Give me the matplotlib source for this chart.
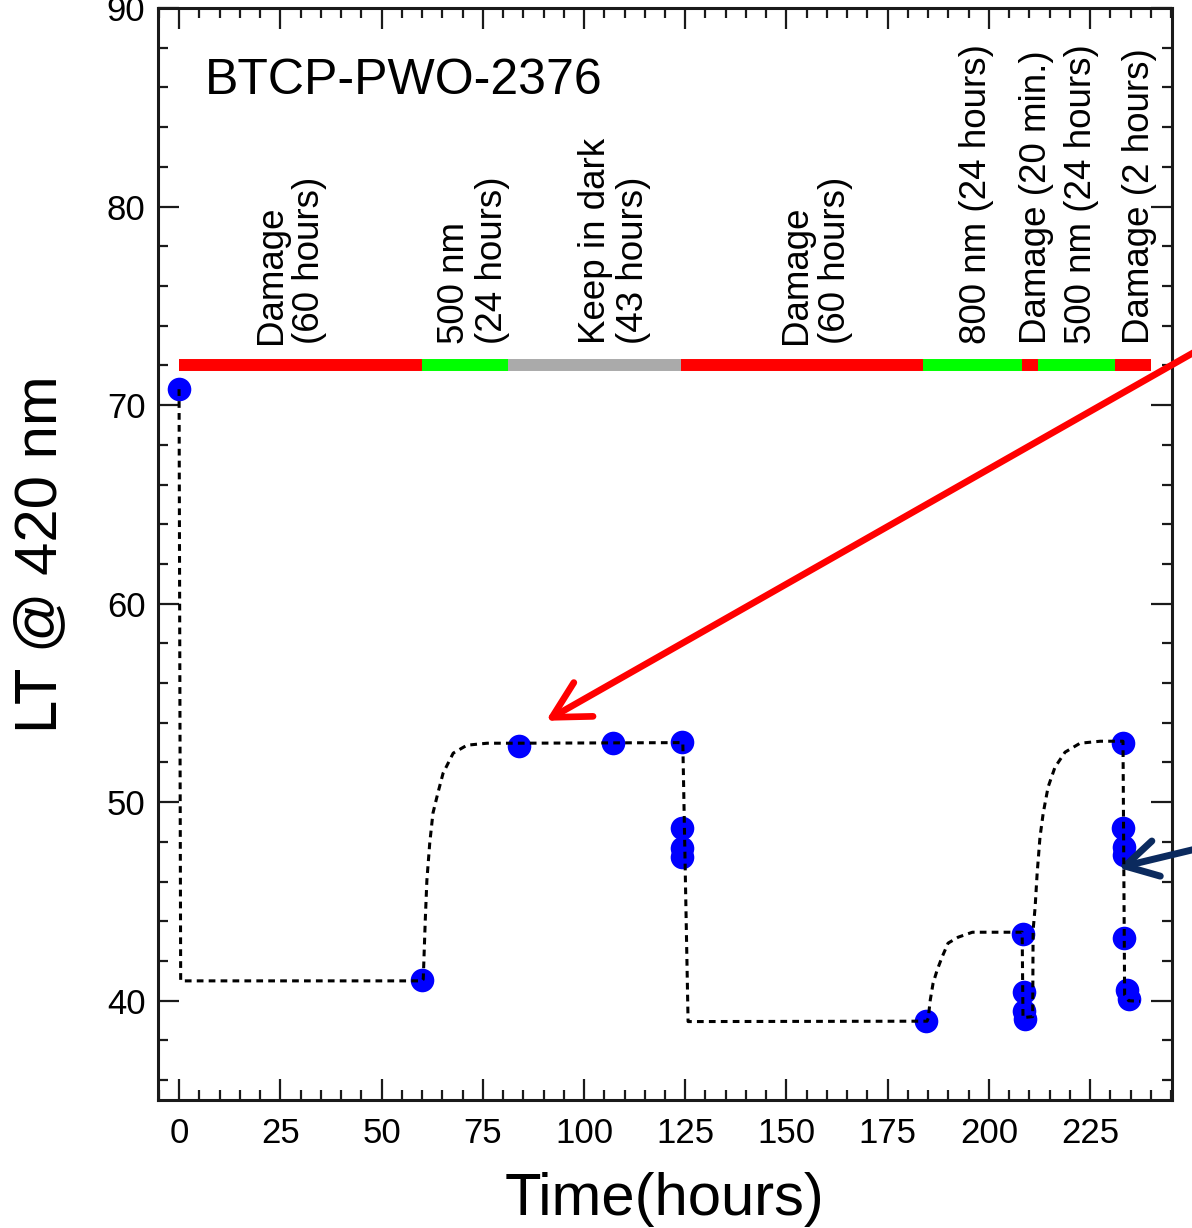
import matplotlib
matplotlib.use("Agg")
import matplotlib.pyplot as plt
from matplotlib.ticker import MultipleLocator

plt.rcParams['font.family'] = ['Liberation Sans', 'DejaVu Sans']

# ---- data ----
pt_x = [0, 60, 84, 107.2, 124.1, 124.1, 124.3, 124.3, 184.5, 208.5, 208.7, 208.7, 208.9,
        233.2, 233.2, 233.3, 233.3, 233.3, 234.1, 234.7]
pt_y = [70.8, 41.03, 52.82, 52.97, 53.04, 48.7, 47.7, 47.25, 38.98, 43.38, 40.45, 39.5, 39.1,
        53.0, 48.7, 47.75, 47.33, 43.18, 40.53, 40.11]

guide_x = [0, 0.4, 60, 60.3, 60.8, 61.2, 61.9, 62.7, 63.9, 65.2, 67.7, 71.1, 76.1, 83.5,
           124.4, 125.7, 184.7, 185.0, 185.5, 186.2, 187.2, 188.4, 189.9, 192.4, 195.9,
           200.8, 208.2, 208.4, 210.8, 210.9, 211.4, 211.9, 212.6, 213.4, 214.6, 216.3,
           218.8, 222.5, 227.5, 233.1, 233.5, 234.5, 237.3]
guide_y = [70.8, 41.0, 41.0, 41.08, 44.06, 46.07, 47.93, 49.45, 50.45, 51.46, 52.47, 52.87,
           52.97, 52.97, 53.0, 38.95, 38.97, 39.12, 40.03, 40.88, 41.54, 42.19, 42.90, 43.20,
           43.45, 43.45, 43.45, 39.15, 39.2, 43.55, 44.71, 46.42, 48.24, 49.45, 50.76, 51.76,
           52.52, 52.97, 53.07, 53.07, 40.3, 40.0, 39.97]

seg_edges = [0, 59.9, 81.3, 123.9, 183.8, 208.1, 212.0, 231.2, 240.0]
seg_colors = ['#ff0000', '#00ff00', '#aaaaaa', '#ff0000', '#00ff00', '#ff0000', '#00ff00', '#ff0000']
bar_level = 72.0

label_texts = ["Damage\n(60 hours)", "500 nm\n(24 hours)", "Keep in dark\n(43 hours)",
               "Damage\n(60 hours)", "800 nm (24 hours)", "Damage (20 min.)",
               "500 nm (24 hours)", "Damage (2 hours)"]
label_x = [27.5, 72.7, 107.5, 157.3, 197.0, 211.8, 222.9, 237.1]

x_ticks = [0, 25, 50, 75, 100, 125, 150, 175, 200, 225]
y_ticks = [40, 50, 60, 70, 80, 90]

# ---- figure ----
fig = plt.figure(figsize=(11.92, 12.28), dpi=100)
ax = fig.add_axes([158/1192, 1 - 1100/1228, (1172-158)/1192, (1100-8)/1228])

ax.set_xlim(-5.2, 245.2)
ax.set_ylim(35, 90)

# status bar
for i, c in enumerate(seg_colors):
    ax.plot([seg_edges[i], seg_edges[i+1]], [bar_level, bar_level], color=c,
            lw=8.6, solid_capstyle='butt', zorder=2)

# markers and guide line
ax.plot(pt_x, pt_y, 'o', color='#0000ff', ms=17, mec='none', zorder=3)
ax.plot(guide_x, guide_y, color='black', lw=2.2, dashes=(2.2, 1.7), zorder=4)

# labels above bar
for t, x in zip(label_texts, label_x):
    ax.text(x, 73.1, t, rotation=90, ha='center', va='bottom', fontsize=26.5,
            multialignment='left', linespacing=1.12, zorder=5)

ax.text(6.4, 86.3, "BTCP-PWO-2376", fontsize=36, ha='left', va='center')

# ticks
ax.set_xticks(x_ticks)
ax.set_yticks(y_ticks)
ax.xaxis.set_minor_locator(MultipleLocator(5))
ax.yaxis.set_minor_locator(MultipleLocator(2))
ax.tick_params(which='both', direction='in', top=True, right=True, width=1.6, color='#1a1a1a')
ax.tick_params(which='major', length=15, labelsize=25)
ax.tick_params(axis='x', which='major', pad=12)
ax.tick_params(axis='y', which='major', pad=9)
ax.tick_params(which='minor', length=7)
for s in ax.spines.values():
    s.set_linewidth(2.2)
    s.set_color('#1a1a1a')

ax.set_xlabel("Time(hours)", fontsize=43, labelpad=16)
ax.set_ylabel("LT @ 420 nm", fontsize=43, labelpad=28)

# arrows
ax.annotate("", xy=(90.6, 54.1), xycoords='data', xytext=(1215, 887.6),
            textcoords='figure pixels', annotation_clip=False,
            arrowprops=dict(arrowstyle='->,head_length=2.6,head_width=1.4', color='#ff0000',
                            lw=4.8, shrinkA=0, shrinkB=0, mutation_scale=10))
ax.annotate("", xy=(231.9, 46.7), xycoords='data', xytext=(1215, 383.6),
            textcoords='figure pixels', annotation_clip=False,
            arrowprops=dict(arrowstyle='->,head_length=2.3,head_width=1.3', color='#0b2a5e',
                            lw=5, shrinkA=0, shrinkB=0, mutation_scale=10))

fig.savefig("out.png", dpi=100)
